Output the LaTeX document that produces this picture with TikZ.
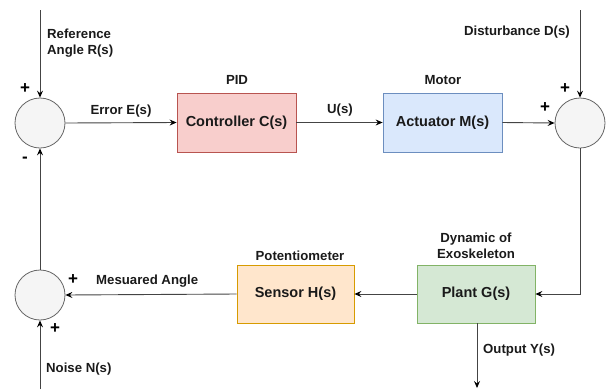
\documentclass[tikz,border=0pt]{standalone}
\usepackage{fontspec}
\setmainfont{Liberation Sans}
\usetikzlibrary{arrows.meta}
\definecolor{lc}{HTML}{444444}
\definecolor{tc}{HTML}{1a1a1a}
\tikzset{
  sumnode/.style={circle,draw={rgb,255:red,102;green,102;blue,102},fill=black!4,minimum size=50pt,inner sep=0pt,line width=0.8pt},
  blk/.style={draw,minimum width=119pt,minimum height=59pt,inner sep=0pt,line width=0.8pt,font=\fontsize{14.5}{16}\selectfont\bfseries,text=tc},
  lbl/.style={font=\fontsize{13.2}{15.5}\selectfont\bfseries,text=tc,inner sep=0pt},
  sgn/.style={font=\fontsize{17}{18}\selectfont\bfseries,text=black,inner sep=0pt},
  conn/.style={draw=lc,line width=0.9pt,-{Stealth[length=7pt,width=6pt,inset=2.5pt,color=black]}},
}
\begin{document}
\begin{tikzpicture}[x=1pt,y=-1pt]
\useasboundingbox (0,0) rectangle (607,389);
% sum nodes
\node[sumnode] (s1) at (40,123) {};
\node[sumnode] (s2) at (580,123) {};
\node[sumnode] (s3) at (40,295) {};
% blocks
\node[blk,fill={rgb,255:red,248;green,206;blue,204},draw={rgb,255:red,184;green,84;blue,80}] (C) at (236.5,122.5) {Controller C(s)};
\node[blk,fill={rgb,255:red,218;green,232;blue,252},draw={rgb,255:red,108;green,142;blue,191}] (M) at (442.5,122.5) {Actuator M(s)};
\node[blk,minimum width=117pt,minimum height=58pt,fill={rgb,255:red,255;green,230;blue,204},draw={rgb,255:red,215;green,155;blue,0}] (H) at (295.5,294) {Sensor H(s)};
\node[blk,minimum width=118pt,minimum height=58pt,fill={rgb,255:red,213;green,232;blue,212},draw={rgb,255:red,130;green,179;blue,102}] (G) at (476,294) {Plant G(s)};
% free ends
\coordinate (rin) at (40,10);
\coordinate (din) at (580,10);
\coordinate (nin) at (40,389);
\coordinate (yout) at (477,388);
\coordinate (corner) at (580,294);
% connectors
\draw[conn] (rin) -- (s1.north);
\draw[conn] (s1.east) -- (C.west);
\draw[conn] (C.east) -- (M.west);
\draw[conn] (M.east) -- (s2.west);
\draw[conn] (din) -- (s2.north);
\draw[conn] (s2.south) -- (corner) -- (G.east);
\draw[conn] (G.west) -- (H.east);
\draw[conn] (H.west) -- (s3.east);
\draw[conn] (nin) -- (s3.south);
\draw[conn] (s3.north) -- (s1.south);
\draw[conn] (G.south -| yout) -- (yout);
% labels
\node[lbl,align=left,anchor=west] (lr) at (47,43) {Reference\\Angle R(s)};
\node[lbl,anchor=east] (ld) at (570,32) {Disturbance D(s)};
\node[lbl] (le) at (121,111) {Error E(s)};
\node[lbl] (lpid) at (237,80) {PID};
\node[lbl] (lu) at (340,110) {U(s)};
\node[lbl] (lmot) at (443,80) {Motor};
\node[lbl] (lpot) at (300,256) {Potentiometer};
\node[lbl,align=center] (ldyn) at (476,246) {Dynamic of\\Exoskeleton};
\node[lbl,anchor=west] (lma) at (96,281) {Mesuared Angle};
\node[lbl,anchor=west] (ln) at (46,369) {Noise N(s)};
\node[lbl,anchor=west] (ly) at (483,350) {Output Y(s)};
% signs
\node[sgn] (p1) at (25,89) {+};
\node[sgn] (m1) at (25,160) {-};
\node[sgn] (p2) at (565,89) {+};
\node[sgn] (p3) at (545,108) {+};
\node[sgn] (p4) at (73,280) {+};
\node[sgn] (p5) at (55,329) {+};
\end{tikzpicture}
\end{document}
